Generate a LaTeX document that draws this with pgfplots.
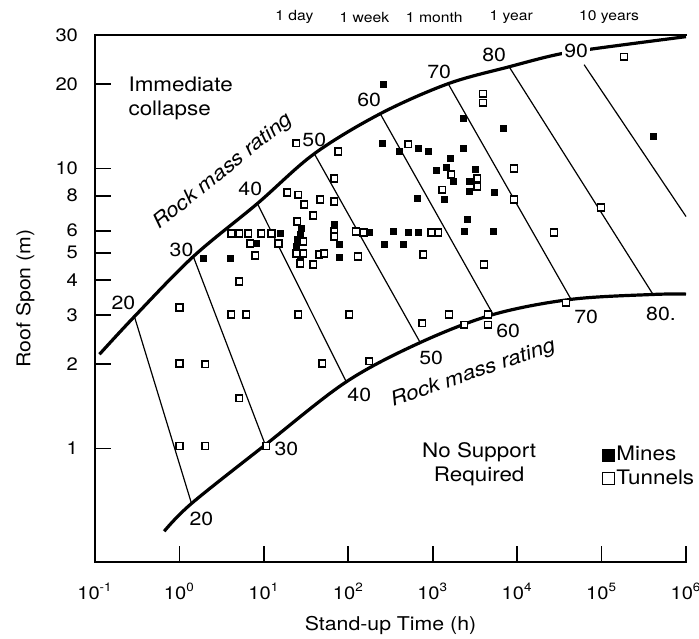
\documentclass[border=0pt]{standalone}
\usepackage{pgfplots}
\pgfplotsset{compat=1.18}
\usepackage{fontspec}
\setmainfont{TeX Gyre Heros}[FakeStretch=1.12]
\begin{document}
\begin{tikzpicture}
\useasboundingbox (-47.5pt,-38pt) rectangle (302pt,281pt);
\begin{axis}[
  scale only axis, width=295.5pt, height=263.5pt,
  xmode=log, ymode=log,
  xmin=0.1, xmax=1000000, ymin=0.393, ymax=30,
  xminorticks=false, yminorticks=false,
  xtick={0.1,1,10,100,1000,10000,100000,1000000},
  xticklabels={10\textsuperscript{-1},10\textsuperscript{0},10\textsuperscript{1},10\textsuperscript{2},10\textsuperscript{3},10\textsuperscript{4},10\textsuperscript{5},10\textsuperscript{6}},
  ytick={1,2,3,4,5,6,8,10,20,30},
  yticklabels={1,2,3,4,5,6,8,10,20,30},
  xtick pos=left, ytick pos=left,
  tick align=inside,
  major tick length=8pt,
  tick style={line width=0.9pt, black},
  axis line style={draw=none},
  clip=false,
  xticklabel style={font=\fontsize{9}{10}\selectfont, yshift=-7pt},
  yticklabel style={font=\fontsize{9}{10}\selectfont, xshift=-5pt},
  xlabel={Stand-up Time (h)}, ylabel={Roof Spon (m)},
  xlabel style={at={(axis description cs:0.5,-0.12)}, anchor=center, font=\fontsize{9.5}{12}\selectfont},
  ylabel style={at={(axis description cs:-0.118,0.5)}, anchor=center, font=\fontsize{9.5}{12}\selectfont},
  legend style={at={(0.858,0.224)}, anchor=north west, draw=none, fill=none,
    font=\fontsize{10}{11}\selectfont, row sep=1pt, inner sep=0pt, nodes={inner sep=1pt}},
  legend cell align=left,
  legend image code/.code={\draw[#1, mark size=3pt] plot coordinates {(3pt,0pt)};},
]
% upper boundary curve
\addplot[black, line width=1.6pt, smooth, tension=0.55, forget plot] coordinates {
 (0.113,2.17) (0.293,2.96) (1.46,4.85) (8.38,7.50) (39.6,11.3) (239,15.7) (1524,20.1) (8040,23.1) (28900,25.5) (81500,26.8) (1000000,29.6)};
% lower boundary curve
\addplot[black, line width=1.6pt, smooth, tension=0.55, forget plot] coordinates {
 (0.66,0.506) (1.39,0.636) (10.4,1.03) (94.6,1.73) (711,2.39) (5200,3.01) (43500,3.41) (407000,3.55) (1000000,3.56)};
% rating lines
\addplot[black, line width=0.6pt, forget plot] coordinates {(0.293,2.96) (1.39,0.636)};
\addplot[black, line width=0.6pt, forget plot] coordinates {(1.46,4.85) (10.4,1.03)};
\addplot[black, line width=0.6pt, forget plot] coordinates {(8.38,7.50) (94.6,1.73)};
\addplot[black, line width=0.6pt, forget plot] coordinates {(39.6,11.3) (711,2.39)};
\addplot[black, line width=0.6pt, forget plot] coordinates {(239,15.7) (5200,3.01)};
\addplot[black, line width=0.6pt, forget plot] coordinates {(1524,20.1) (43500,3.41)};
\addplot[black, line width=0.6pt, forget plot] coordinates {(8040,23.1) (407000,3.55)};
\addplot[black, line width=0.6pt, forget plot] coordinates {(62100,23.5) (1000000,6.74)};
% Mines
\addplot[only marks, mark=square*, mark size=1.5pt, mark options={fill=black, draw=black}] coordinates {
 (260,20) (252,12.3) (402,11.5) (673,11.8) (885,11.5) (2296,15.1) (2296,11.8) (6823,13.9)
 (1611,10.9) (1100,9.84) (1445,10.1) (1748,8.99) (1368,7.75) (2704,8.99) (2704,8.28) (3184,9.92)
 (5345,8.21) (656,7.81) (2560,6.58) (2360,5.96) (5200,5.96) (177,5.91) (341,5.96) (513,5.91)
 (673,5.91) (267,5.35) (448,5.35) (406000,13.0) (1.92,4.77) (4.01,4.77) (15.7,5.86) (8.15,5.40)
 (27.8,6.11) (27.0,5.81) (24.2,5.27) (27.0,4.77) (68.3,6.31) (78.2,5.35) (78.2,4.81) (24.9,5.58)};
\addlegendentry{Mines}
% Tunnels
\addplot[only marks, mark=square*, mark size=1.7pt, mark options={fill=white, draw=black, line width=0.7pt}] coordinates {
 (76.2,11.5) (68.3,9.21) (19.0,8.21) (25.6,8.07) (30.1,7.44) (46.6,7.75) (38.5,6.80) (68.3,7.63)
 (4.12,5.86) (5.13,5.86) (6.55,5.86) (9.34,5.86) (12.3,5.86) (6.92,5.40) (14.9,5.40) (7.93,4.89)
 (5.13,3.95) (1.0,3.19) (4.12,3.01) (6.21,3.01) (25.6,3.01) (103,3.01) (24.9,6.47) (29.3,5.49)
 (24.2,4.97) (29.3,4.97) (27.0,4.58) (38.5,4.54) (45.4,4.93) (52.0,4.97) (68.3,5.96) (68.3,5.72)
 (124,5.96) (131,4.85) (151,5.91) (513,12.2) (3960,18.5) (3960,17.2) (1656,9.52) (1295,8.41)
 (3364,9.21) (3364,8.62) (9210,10.0) (9210,7.75) (960,5.91) (1162,5.91) (772,4.93) (4070,4.54)
 (27400,5.91) (98600,7.26) (185000,25.1) (1.0,2.01) (2.03,2.0) (5.13,1.51) (1.0,1.02) (2.03,1.02)
 (10.7,1.02) (49.2,2.01) (177,2.05) (751,2.80) (1567,3.01) (2360,2.77) (4540,3.01) (4540,2.77)
 (38000,3.32) (24.2,12.3)};
\addlegendentry{Tunnels}
% frame: left, bottom, top
\draw[line width=1.4pt, line cap=rect] (rel axis cs:1,0) -- (rel axis cs:0,0) -- (rel axis cs:0,1) -- (rel axis cs:1,1);
% top time labels
\begin{scope}[font=\fontsize{7}{8}\selectfont]
\node[yshift=9pt] at (axis cs:23,30) {1 day};
\node[yshift=9pt] at (axis cs:155,30) {1 week};
\node[yshift=9pt] at (axis cs:1042,30) {1 month};
\node[yshift=9pt] at (axis cs:8490,30) {1 year};
\node[yshift=9pt] at (axis cs:122700,30) {10 years};
\end{scope}
% rating labels
\begin{scope}[font=\fontsize{9.5}{12}\selectfont, inner sep=1pt]
\node at (axis cs:0.217,3.30) {20};
\node at (axis cs:1.06,5.14) {30};
\node at (axis cs:6.9,8.48) {40};
\node at (axis cs:39.6,12.7) {50};
\node at (axis cs:177,17.6) {60};
\node at (axis cs:1194,22.2) {70};
\node at (axis cs:5345,25.5) {80};
\node[fill=white] at (axis cs:49900,26.4) {90};
\node at (axis cs:1.82,0.562) {20};
\node at (axis cs:18.5,1.0) {30};
\node at (axis cs:135,1.56) {40};
\node at (axis cs:960,2.10) {50};
\node at (axis cs:7820,2.62) {60};
\node at (axis cs:65600,2.96) {70};
\node at (axis cs:506000,3.03) {80.};
\end{scope}
\node[font=\fontsize{10}{12}\selectfont\itshape, rotate=39] at (axis cs:3.32,9.75) {Rock mass rating};
\node[font=\fontsize{10}{12}\selectfont\itshape, rotate=19] at (axis cs:3015,1.85) {Rock mass rating};
\node[font=\fontsize{10}{12}\selectfont, align=left, anchor=north west] at (axis cs:0.206,22.6) {Immediate\\collapse};
\node[font=\fontsize{10}{12}\selectfont, align=center] at (axis cs:3548,0.877) {No Support\\Required};
\end{axis}
\end{tikzpicture}
\end{document}
